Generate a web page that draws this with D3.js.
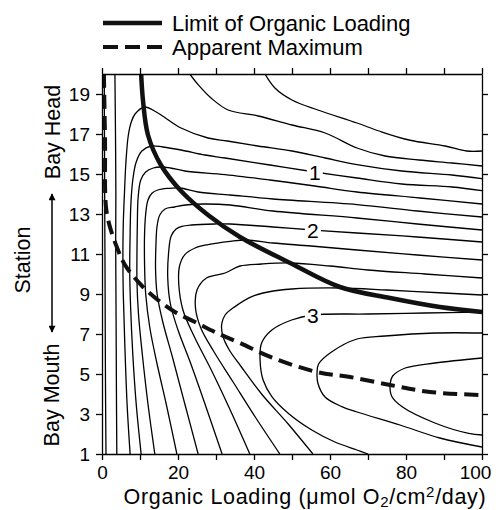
<!DOCTYPE html>
<html><head><meta charset="utf-8">
<script src="https://cdn.jsdelivr.net/npm/d3@7"></script>
<style>
body{margin:0;background:#fff}
svg{display:block}
text{font-family:"Liberation Sans",Arial,Helvetica,sans-serif;fill:#000}
</style>
</head><body>
<svg id="chart" width="496" height="510"></svg>
<script>
// Organic loading (x) vs station (y); contour interval 0.25
const xTicks = [0,10,20,30,40,50,60,70,80,90,100];
const xLabels = [0,20,40,60,80,100];
const yTicks = [1,3,5,7,9,11,13,15,17,19];

// Contour traces, [loading, station]
const c025a = [[1.05,1],[0.9,5],[0.8,10],[0.7,14],[0.6,20]];
const c025b = [[42.9,20],[45.5,19.3],[50,18.7],[56.8,18.2],[67.1,17.55],[72.9,17.15],[80.8,16.7],[90.3,16.4],[96,16.15],[100,16.15]];
const c050a = [[3.9,1],[3.8,4],[3.7,8],[3.6,11.5],[3.65,14],[3.55,17],[3.4,20]];
const c050b = [[23.1,20],[25.3,19.47],[28.7,18.8],[33.2,18.2],[41.1,17.9],[50,17.45],[58.7,17.05],[67.1,16.3],[74.5,15.9],[83.4,15.7],[92.1,15.55],[100,15.4]];
const c075 = [[7.4,1],[6.6,3.5],[6.0,6.5],[5.6,9],[5.5,10.7],[5.6,12.5],[5.9,14],[6.3,15.6],[6.9,16.9],[7.7,17.6],[8.7,18.0],[11.2,18.35],[14.7,18.05],[20.8,17.3],[27.9,16.8],[33,16.65],[41,16.4],[50,16.15],[58.7,15.8],[67.1,15.47],[78.9,15.15],[92.1,14.95],[100,14.77]];
const c100 = [[10.3,1],[9.0,3.5],[8.1,6],[7.5,8.5],[7.3,10.1],[7.4,12],[7.6,13.5],[8.1,14.7],[9.0,15.6],[10.5,16.15],[12.9,16.4],[16,16.35],[20.8,16.2],[27.1,15.95],[32.4,15.8],[44.2,15.45],[56,15.1],[67.1,14.8],[78.9,14.5],[92.1,14.35],[100,14.17]];
const c125 = [[13.9,1],[12.1,3.5],[10.6,6],[9.6,8],[9.2,9.6],[9.2,11],[9.3,12.5],[9.5,13.8],[10.2,14.7],[11.5,15.1],[13.5,15.3],[15.5,15.35],[18,15.3],[21.8,15.15],[32.4,14.97],[44.2,14.7],[56,14.4],[67.1,14.1],[83.7,13.8],[100,13.5]];
const c150 = [[19.7,1],[16.9,3.5],[14.5,5.5],[12.6,7.3],[11.5,9],[11.2,10.5],[11.2,12],[11.5,13],[12.1,13.7],[13.2,14.05],[14.7,14.2],[17.4,14.28],[20.5,14.3],[25.3,14.1],[33.7,13.95],[45,13.75],[67.1,13.47],[83,13.15],[100,12.85]];
const c175 = [[25.3,1],[21.8,3.5],[18.6,5.8],[16,7.6],[14.5,9],[14.1,10.2],[14.2,11.5],[14.5,12.4],[15.2,12.95],[16.6,13.25],[19.1,13.35],[22,13.45],[27,13.5],[33.7,13.45],[45,13.15],[67.1,12.8],[83,12.5],[100,12.2]];
const c200 = [[31.6,1],[27.1,3.5],[23.2,5.6],[20,7.2],[18,8.5],[17.3,9.8],[17.5,11],[18.2,11.9],[19.5,12.25],[21,12.38],[23.5,12.45],[29.7,12.5],[33.7,12.5],[45,12.35],[55.5,12.2],[67.1,12.05],[83,11.85],[100,11.6]];
const c225 = [[38.9,1],[33.5,3.3],[28.5,5.3],[24.2,6.9],[21.3,8.2],[20.2,9.5],[20.4,10.4],[21.8,10.97],[24.5,11.3],[27.9,11.47],[33.7,11.63],[38,11.7],[45,11.55],[55,11.4],[67.1,11.2],[83,10.95],[100,10.7]];
const c250 = [[46.8,1],[40.5,2.8],[34.5,4.6],[29.5,6.1],[26,7.3],[24.6,8.3],[25,9.2],[27.5,9.8],[32.4,10.05],[36.3,10.4],[42,10.5],[49.5,10.55],[60,10.4],[70,10.2],[85,10],[100,9.8]];
const c275 = [[55.5,1],[49,2.5],[42,4],[36.5,5.4],[33.5,6.2],[31.8,6.9],[31.5,7.5],[32.4,7.95],[35,8.37],[39.4,8.87],[43.7,9.1],[50,9.25],[62.6,9.3],[75,9.2],[90,9.05],[100,8.95]];
const c300 = [[70,1],[67.1,1.2],[61.3,1.6],[55.2,2.2],[49,3.04],[44.7,3.87],[42.4,4.7],[41.6,5.7],[42,6.55],[44.7,7.2],[49.9,7.7],[55.5,7.95],[70,8.0],[85,8.05],[100,8.1]];
const c325 = [[100,1.35],[88.9,1.8],[78.4,2.45],[67.1,3.1],[63.1,3.37],[58.7,3.85],[56.8,4.55],[56.6,5.1],[57,5.5],[60.4,6.1],[67.1,6.75],[74.5,6.9],[87.6,7.05],[100,7.05]];
const c350 = [[100,1.95],[96.5,2.03],[87.6,2.55],[78.9,3.37],[76.2,3.9],[75.8,4.4],[76.5,4.9],[79.8,5.3],[87.6,5.55],[100,5.8]];
const contourTraces = [c025a,c025b,c050a,c050b,c075,c100,c125,c150,c175,c200,c225,c250,c275,c300,c325,c350];

// Labelled contour values and their positions
const contourLabels = [{text:"1", at:[56,15.1]},{text:"2", at:[55.5,12.2]},{text:"3", at:[55.5,7.95]}];

// Limit of organic loading (solid) and apparent maximum (dashed)
const limitLine = [[10.3,20],[10.8,18.65],[12.1,16.95],[15.5,15.45],[20.8,14.15],[27.9,12.95],[36.3,11.85],[49.5,10.55],[62.6,9.35],[75.8,8.8],[88.9,8.35],[100,8.1]];
const apparentMax = [[0.5,20],[0.8,16.7],[1.05,13.35],[2.1,12.35],[3.9,11.35],[6.05,10.45],[10.3,9.45],[14.7,8.7],[19.2,8.1],[24.5,7.6],[29.7,7.1],[36.3,6.55],[45,5.8],[56.6,5.1],[65.3,4.85],[75.8,4.45],[86.3,4.1],[100,3.95]];

const svg = d3.select("#chart");
const x = d3.scaleLinear([0,100],[102,482]);
const y = d3.scaleLinear([1,20],[454,74]);

svg.append("rect").attr("width",496).attr("height",510).attr("fill","#fff");

svg.append("defs").append("clipPath").attr("id","plotClip")
  .append("rect").attr("x",x(0)).attr("y",y(20)).attr("width",x(100)-x(0)).attr("height",y(1)-y(20));

const line = d3.line().x(d=>x(d[0])).y(d=>y(d[1])).curve(d3.curveCatmullRom.alpha(0.5));
const plot = svg.append("g").attr("clip-path","url(#plotClip)");

plot.selectAll("path.contour").data(contourTraces).join("path")
  .attr("class","contour").attr("d",line)
  .attr("fill","none").attr("stroke","#000").attr("stroke-width",1.3);

plot.append("path").attr("d",line(limitLine))
  .attr("fill","none").attr("stroke","#111").attr("stroke-width",4.5);
plot.append("path").attr("d",line(apparentMax))
  .attr("fill","none").attr("stroke","#111").attr("stroke-width",4).attr("stroke-dasharray","14,7");

// contour value labels with a white gap behind them
const lab = plot.selectAll("g.clabel").data(contourLabels).join("g")
  .attr("class","clabel").attr("transform",d=>`translate(${x(d.at[0])},${y(d.at[1])})`);
lab.append("rect").attr("x",-8).attr("y",-11).attr("width",16).attr("height",22).attr("fill","#fff");
lab.append("text").attr("text-anchor","middle").attr("dy","0.36em")
  .style("font-size","21px").text(d=>d.text);

// axes
const fmtX = d => xLabels.includes(d) ? String(d) : "";
const axB = svg.append("g").attr("transform",`translate(0,${y(1)})`)
  .call(d3.axisBottom(x).tickValues(xTicks).tickFormat(fmtX).tickSize(6).tickSizeOuter(0).tickPadding(6));
const axT = svg.append("g").attr("transform",`translate(0,${y(20)})`)
  .call(d3.axisTop(x).tickValues(xTicks).tickFormat("").tickSize(6).tickSizeOuter(0));
const axL = svg.append("g").attr("transform",`translate(${x(0)},0)`)
  .call(d3.axisLeft(y).tickValues(yTicks).tickSize(6).tickSizeOuter(0).tickPadding(6));
const axR = svg.append("g").attr("transform",`translate(${x(100)},0)`)
  .call(d3.axisRight(y).tickValues(yTicks).tickFormat("").tickSize(6).tickSizeOuter(0));
[axB,axT,axL,axR].forEach(a=>{
  a.selectAll("path,line").attr("stroke","#000").attr("stroke-width",1.3);
  a.selectAll("text").style("font-size","19px").attr("fill","#000").style("font-family",'"Liberation Sans",Arial,sans-serif');
});
// keep the last bottom label inside the page
axB.selectAll(".tick text").filter(d=>d===100).attr("dx","-7");

// axis titles
svg.append("text").attr("x",305).attr("y",504).attr("text-anchor","middle")
  .style("font-size","21.5px").style("letter-spacing","0.7px")
  .html('Organic Loading (&#956;mol O<tspan font-size="15px" dy="3">2</tspan><tspan dy="-3">/cm</tspan><tspan font-size="15px" dy="-7">2</tspan><tspan dy="7">/day)</tspan>');

const vText = (t,cx,cy)=>svg.append("text").attr("transform",`translate(${cx},${cy}) rotate(-90)`)
  .attr("text-anchor","middle").attr("dy","0.35em").style("font-size","21.5px").text(t);
vText("Station",22,260);
vText("Bay Head",52,132);
vText("Bay Mouth",51,395);

// double-headed arrow
const defs = svg.select("defs");
defs.append("marker").attr("id","ah").attr("viewBox","0 0 10 10").attr("refX",9).attr("refY",5)
  .attr("markerWidth",12).attr("markerHeight",7).attr("markerUnits","userSpaceOnUse").attr("orient","auto-start-reverse")
  .append("path").attr("d","M0,0 L10,5 L0,10 Z").attr("fill","#000");
svg.append("line").attr("x1",52).attr("x2",52).attr("y1",194).attr("y2",332)
  .attr("stroke","#000").attr("stroke-width",1.5)
  .attr("marker-start","url(#ah)").attr("marker-end","url(#ah)");

// legend
const legend = svg.append("g");
legend.append("line").attr("x1",103).attr("x2",162).attr("y1",23).attr("y2",23)
  .attr("stroke","#111").attr("stroke-width",4.5);
legend.append("line").attr("x1",103).attr("x2",162).attr("y1",47).attr("y2",47)
  .attr("stroke","#111").attr("stroke-width",4).attr("stroke-dasharray","15,7");
legend.append("text").attr("x",172).attr("y",31).style("font-size","22px").text("Limit of Organic Loading");
legend.append("text").attr("x",172).attr("y",55).style("font-size","22px").text("Apparent Maximum");
</script>
</body></html>
